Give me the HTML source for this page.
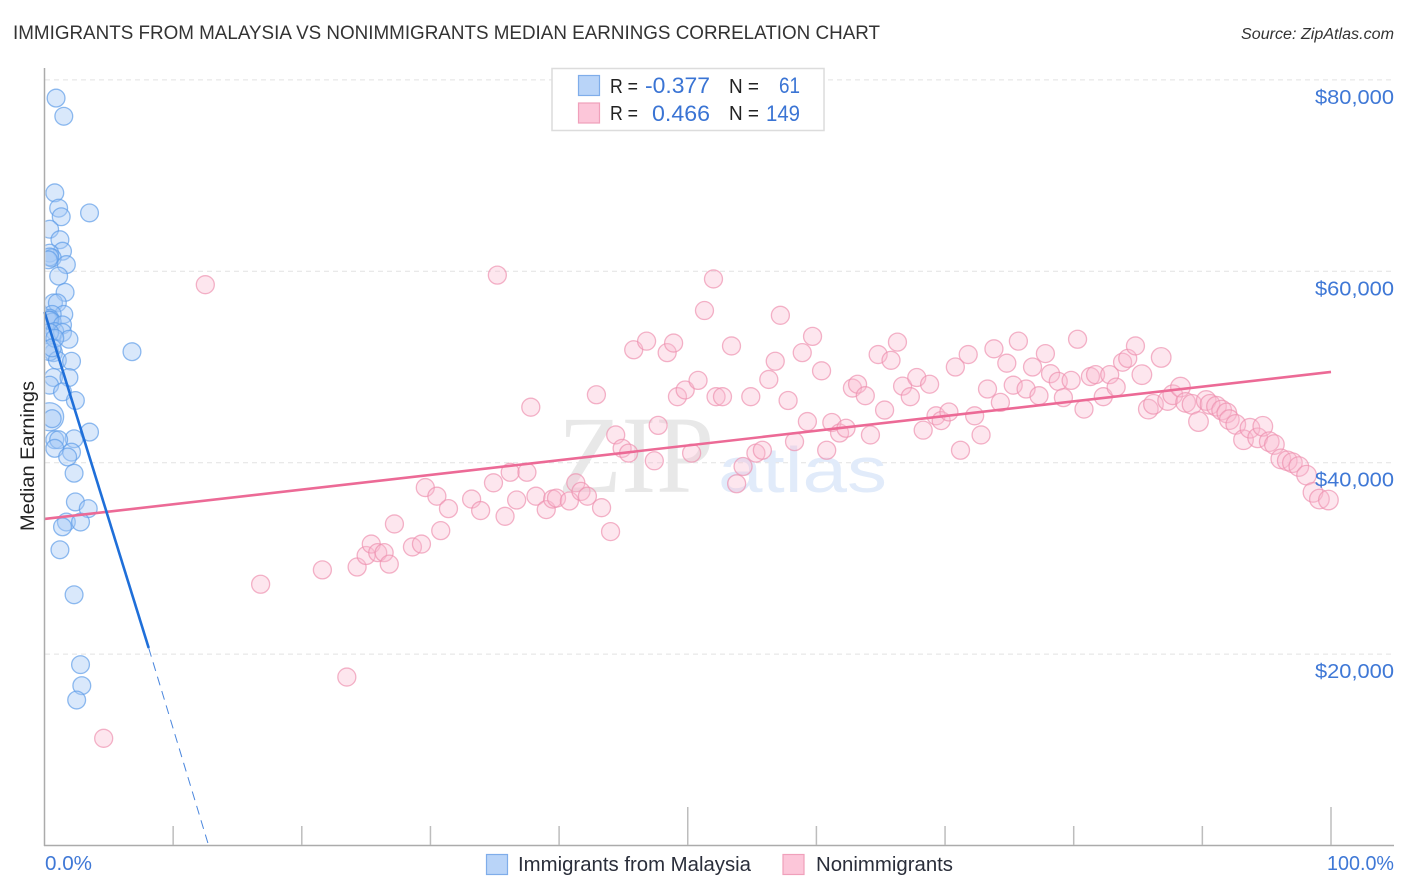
<!DOCTYPE html>
<html lang="en">
<head>
<meta charset="utf-8">
<title>Immigrants from Malaysia vs Nonimmigrants Median Earnings Correlation Chart</title>
<style>
html,body{margin:0;padding:0;background:#fff;}
svg{display:block;font-family:"Liberation Sans",sans-serif;}
</style>
</head>
<body>
<svg id="chart" xmlns="http://www.w3.org/2000/svg" width="1406" height="892" viewBox="0 0 1406 892">
  <defs>
    <clipPath id="plot-clip"><rect x="45.5" y="60" width="1361" height="785"/></clipPath>
  </defs>
  <text x="13" y="39" font-size="19.5" fill="#333333" textLength="867" lengthAdjust="spacingAndGlyphs">IMMIGRANTS FROM MALAYSIA VS NONIMMIGRANTS MEDIAN EARNINGS CORRELATION CHART</text>
  <text x="1394" y="39" font-size="15.5" font-style="italic" fill="#333333" text-anchor="end" textLength="153" lengthAdjust="spacingAndGlyphs">Source: ZipAtlas.com</text>

  <g id="grid"></g>

  <g>
    <text x="558" y="492" font-family="'Liberation Serif',serif" font-size="110" fill="#e8e8e8" textLength="156" lengthAdjust="spacingAndGlyphs">ZIP</text>
    <text x="718" y="492" font-size="64" fill="#e1ebfa" textLength="169" lengthAdjust="spacingAndGlyphs">atlas</text>
  </g>

  <g id="points" clip-path="url(#plot-clip)"></g>
  <g id="trends"></g>

  <g id="axes">
    <line x1="44.5" y1="68" x2="44.5" y2="846" stroke="#ababab" stroke-width="1.5"/>
    <line x1="44" y1="845.5" x2="1394" y2="845.5" stroke="#ababab" stroke-width="1.5"/>
  </g>
  <g id="tick-labels"></g>

  <text transform="translate(34 456) rotate(-90)" font-size="19.5" fill="#222" text-anchor="middle" textLength="150" lengthAdjust="spacingAndGlyphs">Median Earnings</text>

  <g>
    <rect x="552" y="68.5" width="272" height="62" fill="#fff" stroke="#dcdcdc" stroke-width="1.5"/>
    <rect x="578.5" y="75.5" width="21" height="20" fill="#b9d4f8" stroke="#7fadea" stroke-width="1.2"/>
    <rect x="578.5" y="103" width="21" height="20" fill="#fcc6d9" stroke="#f0a0bb" stroke-width="1.2"/>
    <text x="610" y="93" font-size="20" fill="#222" textLength="28" lengthAdjust="spacingAndGlyphs">R =</text>
    <text x="710" y="93" font-size="22" fill="#3a74d4" text-anchor="end" textLength="65" lengthAdjust="spacingAndGlyphs">-0.377</text>
    <text x="729" y="93" font-size="20" fill="#222" textLength="30" lengthAdjust="spacingAndGlyphs">N =</text>
    <text x="800" y="93" font-size="22" fill="#3a74d4" text-anchor="end" textLength="21" lengthAdjust="spacingAndGlyphs">61</text>
    <text x="610" y="120" font-size="20" fill="#222" textLength="28" lengthAdjust="spacingAndGlyphs">R =</text>
    <text x="710" y="121" font-size="22" fill="#3a74d4" text-anchor="end" textLength="58" lengthAdjust="spacingAndGlyphs">0.466</text>
    <text x="729" y="120" font-size="20" fill="#222" textLength="30" lengthAdjust="spacingAndGlyphs">N =</text>
    <text x="800" y="121" font-size="22" fill="#3a74d4" text-anchor="end" textLength="34" lengthAdjust="spacingAndGlyphs">149</text>
  </g>

  <g>
    <rect x="486.5" y="854.5" width="21" height="20" fill="#b9d4f8" stroke="#7fadea" stroke-width="1.2"/>
    <text x="518" y="871" font-size="20" fill="#2a2e3a" textLength="233" lengthAdjust="spacingAndGlyphs">Immigrants from Malaysia</text>
    <rect x="783" y="854.5" width="21" height="20" fill="#fcc6d9" stroke="#f0a0bb" stroke-width="1.2"/>
    <text x="816" y="871" font-size="20" fill="#2a2e3a" textLength="137" lengthAdjust="spacingAndGlyphs">Nonimmigrants</text>
  </g>
</svg>
<script>
const yTickValues = [20000, 40000, 60000, 80000];
const yTickLabels = ["$20,000", "$40,000", "$60,000", "$80,000"];
const xTickValues = [0, 10, 20, 30, 40, 50, 60, 70, 80, 90, 100];
const xMajorTicks = [50, 100];
const xEndLabels = ["0.0%", "100.0%"];

const malaysiaPct = [0.9,1.5,0.8,1.1,1.3,3.5,0.4,1.2,1.4,0.4,0.6,0.4,0.3,1.7,1.1,1.6,0.7,1.0,1.5,0.6,0.4,0.3,0.6,0.4,1.4,0.8,1.4,0.4,1.9,0.7,0.4,1.0,2.1,6.8,0.7,1.9,0.4,1.4,2.4,0.4,0.6,3.5,2.3,0.8,1.1,0.8,2.1,1.8,2.3,2.4,3.4,1.7,2.8,1.4,1.2,2.3,2.8,2.9,2.5,0.8,0.6];
const malaysiaEarnings = [78100,76200,68200,66600,65700,66100,64400,63300,62100,61900,61400,61500,61200,60700,59500,57800,56700,56700,55500,55500,55100,54900,54700,54900,54400,53700,53600,53600,52900,51500,51600,50700,50600,51600,48900,48900,48100,47400,46500,44800,44600,43200,42500,42400,42400,41500,41100,40600,38900,35900,35200,33800,33800,33300,30900,26200,18900,16700,15200,53000,52000];
const malaysiaLargeSampleIndex = 39;

const nonimmigrantPct = [4.6,12.5,16.8,21.6,23.5,24.3,25.0,25.4,25.9,26.4,26.8,27.2,28.6,29.3,29.6,30.5,30.8,31.4,33.2,33.9,34.9,35.2,35.8,36.2,36.7,37.5,37.8,38.2,39.0,39.5,39.8,40.8,41.3,41.7,42.2,42.9,43.3,44.0,44.4,44.9,45.4,45.8,46.8,47.4,47.7,48.4,48.9,49.2,49.8,50.3,50.8,51.3,52.0,52.2,52.7,53.4,53.8,54.3,54.9,55.3,55.8,56.3,56.8,57.2,57.8,58.3,58.9,59.3,59.7,60.4,60.8,61.2,61.8,62.3,62.8,63.2,63.8,64.2,64.8,65.3,65.8,66.3,66.7,67.3,67.8,68.3,68.8,69.3,69.7,70.3,70.8,71.2,71.8,72.3,72.8,73.3,73.8,74.3,74.8,75.3,75.7,76.3,76.8,77.3,77.8,78.2,78.8,79.2,79.8,80.3,80.8,81.3,81.7,82.3,82.8,83.3,83.8,84.2,84.8,85.3,85.8,86.2,86.8,87.3,87.7,88.3,88.7,89.2,89.7,90.3,90.6,91.1,91.5,91.9,92.1,92.6,93.2,93.7,94.3,94.7,95.2,95.6,96.1,96.6,97.0,97.5,98.1,98.6,99.1,99.8];
const nonimmigrantEarnings = [11200,58600,27300,28800,17600,29100,30300,31500,30600,30600,29400,33600,31200,31500,37400,36500,32900,35200,36200,35000,37900,59600,34400,39000,36100,39000,45800,36500,35100,36200,36300,36000,37900,37000,36500,47100,35300,32800,42900,41500,41000,51800,52700,40200,43900,51500,52500,46900,47600,41000,48600,55900,59200,46900,46900,52200,37800,39600,46900,41000,41300,48700,50600,55400,46500,42200,51500,44300,53200,49600,41300,44200,43100,43600,47800,48200,47000,42900,51300,45500,50700,52600,48000,46900,48900,43400,48200,44900,44400,45300,50000,41300,51300,44900,42900,47700,51900,46300,50400,48100,52700,47700,50000,47000,51400,49300,48500,46800,48600,52900,45600,49000,49200,46900,49200,47900,50500,50900,52200,49200,45600,46100,51000,46500,47100,47900,46300,46100,44300,46500,46100,45900,45500,45200,44500,44000,42400,43600,42600,43800,42200,41900,40400,40200,40000,39600,38700,36900,36200,36100];

const malaysiaTrendPct = [0, 8.1];
const malaysiaTrendEarnings = [55750, 20640];
const malaysiaDashPct = [8.1, 12.7];
const malaysiaDashEarnings = [20640, 260];
const nonimmigrantTrendPct = [0, 100];
const nonimmigrantTrendEarnings = [34120, 49480];

const SVG_NS = "http://www.w3.org/2000/svg";
function xScale(pct) { return 44.5 + pct * 12.865; }
function yScale(value) { return 845.5 - value * 0.00957; }
function make(tag, attrs, parent) {
  const el = document.createElementNS(SVG_NS, tag);
  Object.keys(attrs).forEach(function (k) { el.setAttribute(k, attrs[k]); });
  parent.appendChild(el);
  return el;
}

const gridGroup = document.getElementById("grid");
const labelGroup = document.getElementById("tick-labels");
const axesGroup = document.getElementById("axes");
const pointsGroup = document.getElementById("points");
const trendsGroup = document.getElementById("trends");

yTickValues.forEach(function (v, i) {
  const line = make("line", {x1: 45, x2: 1394, y1: yScale(v), y2: yScale(v), stroke: "#e2e2e2", "stroke-width": 1, "stroke-dasharray": "5 4"}, gridGroup);
  
  
  const label = make("text", {x: 1394, y: yScale(v) + 24, "font-size": 20.5, fill: "#3f78d6", "text-anchor": "end", textLength: 79, lengthAdjust: "spacingAndGlyphs"}, labelGroup);
  label.textContent = yTickLabels[i];
  
  
});

xTickValues.forEach(function (p) {
  if (p === 0) return;
  const top = xMajorTicks.indexOf(p) >= 0 ? 807 : 826;
  const tick = make("line", {x1: xScale(p), x2: xScale(p), y1: top, y2: 845, stroke: "#bdbdbd", "stroke-width": 1.5}, axesGroup);
  
  
});

const xLabelStart = make("text", {x: 45, y: 870, "font-size": 20.5, fill: "#3f78d6", textLength: 47, lengthAdjust: "spacingAndGlyphs"}, labelGroup);
xLabelStart.textContent = xEndLabels[0];


const xLabelEnd = make("text", {x: 1394, y: 870, "font-size": 20.5, fill: "#3f78d6", "text-anchor": "end", textLength: 67, lengthAdjust: "spacingAndGlyphs"}, labelGroup);
xLabelEnd.textContent = xEndLabels[1];



nonimmigrantPct.forEach(function (p, i) {
  const r = p >= 85 ? 9.8 : 9;
  const c = make("circle", {cx: xScale(p), cy: yScale(nonimmigrantEarnings[i]), r: r, fill: "#f9b9cf", "fill-opacity": 0.36, stroke: "#ee8fae", "stroke-opacity": 0.68, "stroke-width": 1.3}, pointsGroup);
  
  
});
malaysiaPct.forEach(function (p, i) {
  const r = i === malaysiaLargeSampleIndex ? 14 : 8.9;
  const c = make("circle", {cx: xScale(p), cy: yScale(malaysiaEarnings[i]), r: r, fill: "#a4c8f6", "fill-opacity": 0.42, stroke: "#5c9be8", "stroke-opacity": 0.68, "stroke-width": 1.3}, pointsGroup);
  
  
});

const pinkTrend = make("line", {x1: xScale(nonimmigrantTrendPct[0]), y1: yScale(nonimmigrantTrendEarnings[0]), x2: xScale(nonimmigrantTrendPct[1]), y2: yScale(nonimmigrantTrendEarnings[1]), stroke: "#ec6a96", "stroke-width": 2.6}, trendsGroup);


const blueTrend = make("line", {x1: xScale(malaysiaTrendPct[0]), y1: yScale(malaysiaTrendEarnings[0]), x2: xScale(malaysiaTrendPct[1]), y2: yScale(malaysiaTrendEarnings[1]), stroke: "#1f6fd9", "stroke-width": 2.6}, trendsGroup);


const blueDash = make("line", {x1: xScale(malaysiaDashPct[0]), y1: yScale(malaysiaDashEarnings[0]), x2: xScale(malaysiaDashPct[1]), y2: yScale(malaysiaDashEarnings[1]), stroke: "#4a86dd", "stroke-width": 1, "stroke-dasharray": "9 6"}, trendsGroup);


</script>
</body>
</html>
